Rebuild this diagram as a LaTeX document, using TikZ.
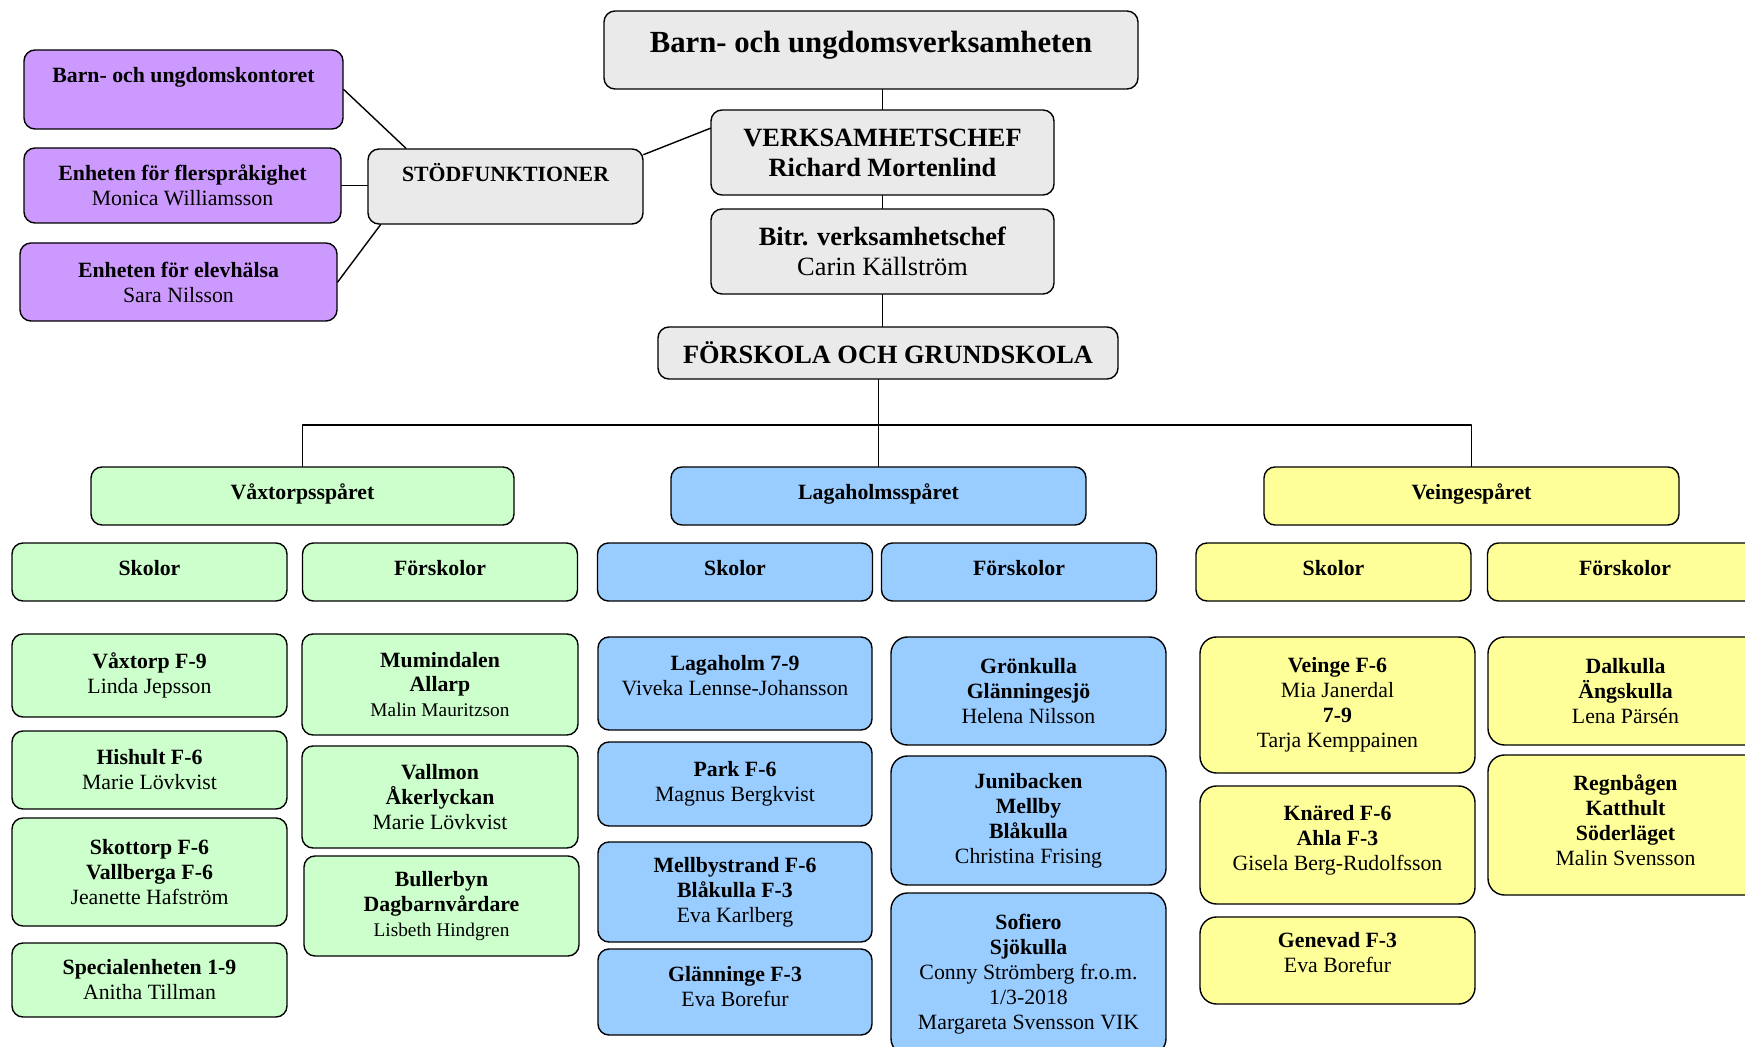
\documentclass[tikz,border=0pt]{standalone}
\usepackage{fontspec}
\setmainfont{Liberation Serif}
\usepackage{xcolor}
\usepackage{tikz}
\definecolor{grayfill}{HTML}{EAEAEA}
\definecolor{purplefill}{HTML}{CC99FF}
\definecolor{greenfill}{HTML}{CCFFCC}
\definecolor{bluefill}{HTML}{99CCFF}
\definecolor{yellowfill}{HTML}{FFFF99}
\tikzset{
  box/.style={draw=black, line width=0.8pt, rounded corners=0.22cm, align=center, inner sep=0pt,
    font=\fontsize{12.4}{14.2}\selectfont},
  bigbox/.style={box, rounded corners=0.33cm},
  boxsize/.style 2 args={minimum width=#1*0.02cm, minimum height=#2*0.02cm},
  headbox/.style={box, boxsize={275}{58}, font=\fontsize{12.4}{14.2}\selectfont\bfseries, text depth=5pt},
  conn/.style={line width=0.8pt},
}
\newcommand{\smallname}[1]{{\fontsize{11}{14.2}\selectfont #1}}

\begin{document}
\begin{tikzpicture}[line cap=round,line join=round,x=0.02cm,y=-0.02cm]
\useasboundingbox (0,0) rectangle (1745,1047);

\node[box, fill=grayfill, boxsize={534}{78}, font=\fontsize{17.5}{20}\selectfont\bfseries, text depth=9pt] (title) at (871,50) {Barn- och ungdomsverksamheten};
\node[box, fill=grayfill, boxsize={343}{85}, font=\fontsize{15}{17}\selectfont\bfseries] (chef) at (882.5,152.5) {VERKSAMHETSCHEF\\Richard Mortenlind};
\node[box, fill=grayfill, boxsize={343}{85}, font=\fontsize{15}{17}\selectfont] (bitr) at (882.5,251.5) {\textbf{Bitr. verksamhetschef}\\Carin Källström};
\node[box, fill=grayfill, boxsize={460}{52}, font=\fontsize{15}{17}\selectfont\bfseries] (fogs) at (888,353) {FÖRSKOLA OCH GRUNDSKOLA};
\node[box, fill=grayfill, boxsize={275}{75}, font=\fontsize{12.4}{14.2}\selectfont\bfseries, text depth=16pt] (stod) at (505.5,186.5) {STÖDFUNKTIONER};

\node[box, fill=purplefill, boxsize={319}{79}, font=\fontsize{12.4}{14.2}\selectfont\bfseries, text depth=16pt] (kontor) at (183.5,89.5) {Barn- och ungdomskontoret};
\node[box, fill=purplefill, boxsize={317}{75}] (flersprak) at (182.5,185.5) {\textbf{Enheten för flerspråkighet}\\Monica Williamsson};
\node[box, fill=purplefill, boxsize={317}{78}] (elevhalsa) at (178.5,282) {\textbf{Enheten för elevhälsa}\\Sara Nilsson};

\node[headbox, fill=greenfill, boxsize={423}{58}] (vax) at (302.5,496) {Våxtorpsspåret};
\node[headbox, fill=bluefill, boxsize={415}{58}] (lag) at (878.5,496) {Lagaholmsspåret};
\node[headbox, fill=yellowfill, boxsize={415}{58}] (vei) at (1471.5,496) {Veingespåret};

\node[headbox, fill=greenfill] (vaxskol) at (149.5,572) {Skolor};
\node[headbox, fill=greenfill] (vaxforsk) at (440,572) {Förskolor};
\node[headbox, fill=bluefill] (lagskol) at (735,572) {Skolor};
\node[headbox, fill=bluefill] (lagforsk) at (1019,572) {Förskolor};
\node[headbox, fill=yellowfill] (veiskol) at (1333.5,572) {Skolor};
\node[headbox, fill=yellowfill] (veiforsk) at (1625,572) {Förskolor};

\node[box, fill=greenfill, boxsize={275}{83}] (vaxtorp) at (149.5,675.5) {\textbf{Våxtorp F-9}\\Linda Jepsson};
\node[box, fill=greenfill, boxsize={275}{78}] (hishult) at (149.5,770) {\textbf{Hishult F-6}\\Marie Lövkvist};
\node[box, fill=greenfill, boxsize={275}{108}] (skottorp) at (149.5,872) {\textbf{Skottorp F-6}\\\textbf{Vallberga F-6}\\Jeanette Hafström};
\node[box, fill=greenfill, boxsize={275}{74}] (special) at (149.5,980) {\textbf{Specialenheten 1-9}\\Anitha Tillman};

\node[box, fill=greenfill, boxsize={276}{101}] (mumin) at (440,684.5) {\textbf{Mumindalen}\\\textbf{Allarp}\\\smallname{Malin Mauritzson}};
\node[box, fill=greenfill, boxsize={276}{102}] (vallmon) at (440,797) {\textbf{Vallmon}\\\textbf{Åkerlyckan}\\Marie Lövkvist};
\node[box, fill=greenfill, boxsize={275}{100}] (buller) at (441.5,906) {\textbf{Bullerbyn}\\\textbf{Dagbarnvårdare}\\\smallname{Lisbeth Hindgren}};

\node[box, fill=bluefill, boxsize={274}{93}, text depth=9pt] (lagaholm) at (735,683.5) {\textbf{Lagaholm 7-9}\\Viveka Lennse-Johansson};
\node[box, fill=bluefill, boxsize={274}{84}] (park) at (735,784) {\textbf{Park F-6}\\Magnus Bergkvist};
\node[box, fill=bluefill, boxsize={274}{100}] (mellby) at (735,892) {\textbf{Mellbystrand F-6}\\\textbf{Blåkulla F-3}\\Eva Karlberg};
\node[box, fill=bluefill, boxsize={274}{86}, text depth=6pt] (glann) at (735,992) {\textbf{Glänninge F-3}\\Eva Borefur};

\node[bigbox, fill=bluefill, boxsize={275}{108}] (gronk) at (1028.5,691) {\textbf{Grönkulla}\\\textbf{Glänningesjö}\\Helena Nilsson};
\node[bigbox, fill=bluefill, boxsize={275}{129}] (juni) at (1028.5,820.5) {\textbf{Junibacken}\\\textbf{Mellby}\\\textbf{Blåkulla}\\Christina Frising};
\node[bigbox, fill=bluefill, boxsize={275}{162}] (sofiero) at (1028.5,974) {\textbf{Sofiero}\\\textbf{Sjökulla}\\Conny Strömberg fr.o.m.\\1/3-2018\\Margareta Svensson VIK};

\node[bigbox, fill=yellowfill, boxsize={275}{136}] (veinge) at (1337.5,705) {\textbf{Veinge F-6}\\Mia Janerdal\\\textbf{7-9}\\Tarja Kemppainen};
\node[bigbox, fill=yellowfill, boxsize={275}{118}, text depth=8pt] (knared) at (1337.5,845) {\textbf{Knäred F-6}\\\textbf{Ahla F-3}\\Gisela Berg-Rudolfsson};
\node[bigbox, fill=yellowfill, boxsize={275}{87}, text depth=9pt] (genevad) at (1337.5,960.5) {\textbf{Genevad F-3}\\Eva Borefur};

\node[bigbox, fill=yellowfill, boxsize={275}{108}] (dalk) at (1625.5,691) {\textbf{Dalkulla}\\\textbf{Ängskulla}\\Lena Pärsén};
\node[bigbox, fill=yellowfill, boxsize={275}{140}, text depth=6pt] (regn) at (1625.5,825) {\textbf{Regnbågen}\\\textbf{Katthult}\\\textbf{Söderläget}\\Malin Svensson};

\coordinate (bus) at (880,425);
\draw[conn] (title.south -| chef.north) -- (chef.north);
\draw[conn] (chef.south) -- (bitr.north);
\draw[conn] (bitr.south) -- (bitr.south |- fogs.north);
\draw[conn] (fogs.south -| lag.north) -- (lag.north);
\draw[conn] (vax.north) -- (vax.north |- bus) -- (vei.north |- bus) -- (vei.north);
\draw[conn] (stod.13) -- (chef.172);
\draw[conn] (kontor.east) -- (stod.159);
\draw[conn] (flersprak.east) -- (flersprak.east -| stod.west);
\draw[conn] (elevhalsa.east) -- (stod.197);
\end{tikzpicture}
\end{document}
